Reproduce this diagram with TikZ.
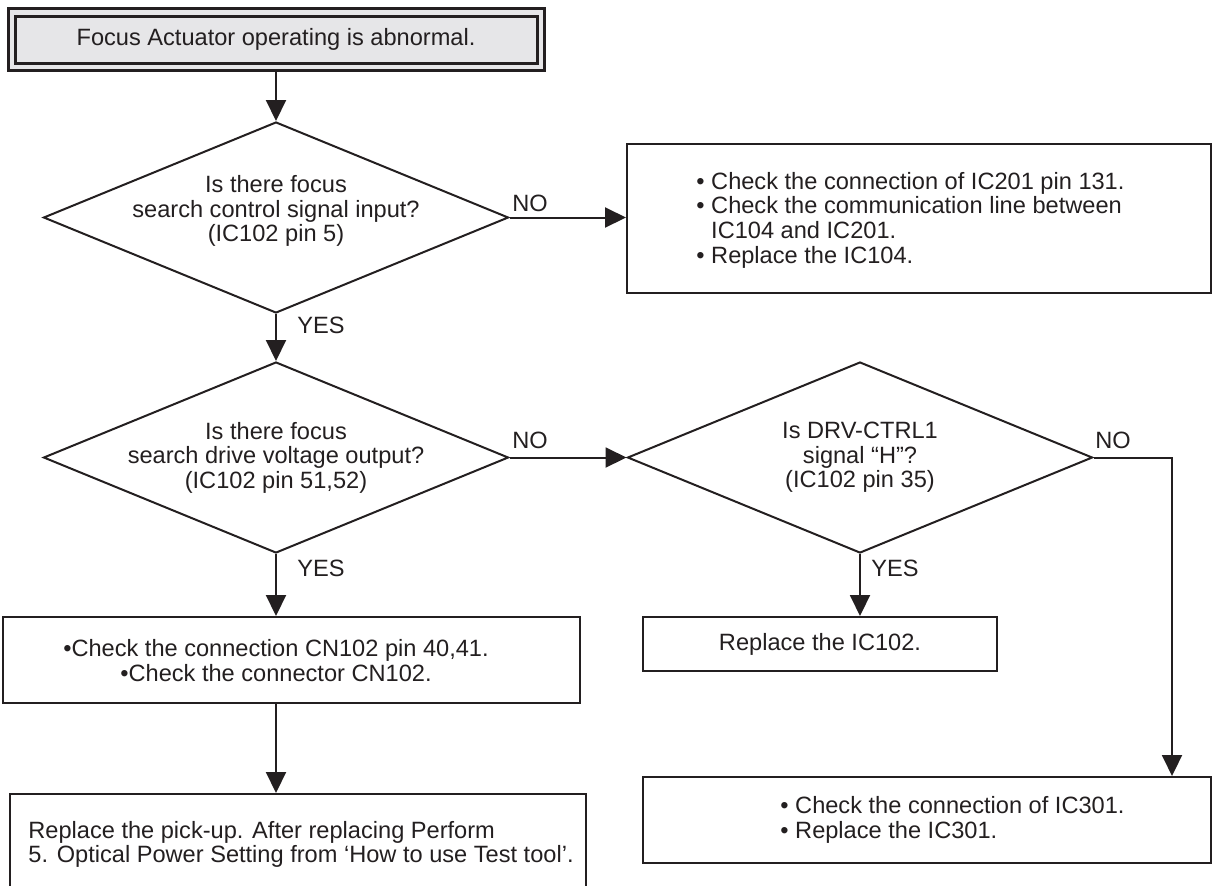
\documentclass[tikz,border=0pt]{standalone}
\usepackage{fontspec}
\setmainfont{Liberation Sans}
\usetikzlibrary{shapes.geometric,arrows.meta}
\definecolor{ink}{HTML}{231F20}
\definecolor{topfill}{HTML}{E6E6E8}
\begin{document}
\begin{tikzpicture}[x=0.5pt,y=-0.5pt,
  font=\fontsize{11.8}{12.3}\selectfont, every node/.style={text=ink},
  box/.style={draw=ink, line width=1pt, rectangle, inner sep=0pt},
  dia/.style={draw=ink, line width=1pt, diamond, inner sep=0pt, minimum width=232.5pt, minimum height=95.5pt},
  txt/.style={inner sep=0pt, align=center},
  ltxt/.style={inner sep=0pt, align=left, anchor=west},
  lbl/.style={inner sep=0pt},
  arr/.style={draw=ink, line width=1pt, -{Triangle[width=10pt,length=10.5pt]}},
  ln/.style={draw=ink, line width=1pt}]
\clip (0,0) rectangle (1213,885);
% start box
\node[box, line width=1.5pt, fill=topfill, minimum width=268pt, minimum height=31pt] (top) at (276,39) {};
\node[box, line width=1.5pt, minimum width=261pt, minimum height=23.5pt] (topin) at (276,39.5) {Focus Actuator operating is abnormal.};
% decisions
\node[dia] (d1) at (276,217.5) {};
\node[txt] (d1t) at (276,211) {Is there focus\\search control signal input?\\(IC102 pin 5)};
\node[dia] (d2) at (276,457.5) {};
\node[txt] (d2t) at (276,457.5) {Is there focus\\search drive voltage output?\\(IC102 pin 51,52)};
\node[dia] (d3) at (860,457.5) {};
\node[txt] (d3t) at (860,457.5) {Is DRV-CTRL1\\signal “H”?\\(IC102 pin 35)};
% boxes
\node[box, minimum width=292pt, minimum height=74.5pt] (b2) at (919,218.5) {};
\node[ltxt] (b2t) at (696,220) {• Check the connection of IC201 pin 131.\\• Check the communication line between\\\phantom{• }IC104 and IC201.\\• Replace the IC104.};
\node[box, minimum width=288.5pt, minimum height=43pt] (cn) at (291.5,660) {};
\node[txt] (cnt) at (276,660.5) {•Check the connection CN102 pin 40,41.\\•Check the connector CN102.};
\node[box, minimum width=177pt, minimum height=27pt] (ic102) at (820,644) {Replace the IC102.};
\node[box, minimum width=288pt, minimum height=55pt] (pick) at (298,849) {};
\node[ltxt] (pickt) at (28,844.5) {Replace the pick-up. After replacing Perform\\5. Optical Power Setting from ‘How to use Test tool’.};
\node[box, minimum width=284pt, minimum height=43pt] (ic301) at (927,820) {};
\node[ltxt] (ic301t) at (780,820) {• Check the connection of IC301.\\• Replace the IC301.};
\coordinate (c3) at (1172,457.5);
% connectors
\draw[arr] (top.south -| d1.north) -- (d1.north);
\draw[arr] (d1.east) -- (d1.east -| b2.west);
\draw[arr] (d1.south) -- (d2.north);
\draw[arr] (d2.east) -- (d3.west);
\draw[arr] (d2.south) -- (d2.south |- cn.north);
\draw[arr] (cn.south -| d2.south) -- (d2.south |- pick.north);
\draw[arr] (d3.south) -- (d3.south |- ic102.north);
\draw[arr] (d3.east) -- (c3) -- (c3 |- ic301.north);
% labels
\node[lbl] (no1) at (530,203) {NO};
\node[lbl] (yes1) at (321,325) {YES};
\node[lbl] (no2) at (530,440) {NO};
\node[lbl] (yes2) at (321,568) {YES};
\node[lbl] (no3) at (1113,440) {NO};
\node[lbl] (yes3) at (895,568) {YES};
\end{tikzpicture}
\end{document}
